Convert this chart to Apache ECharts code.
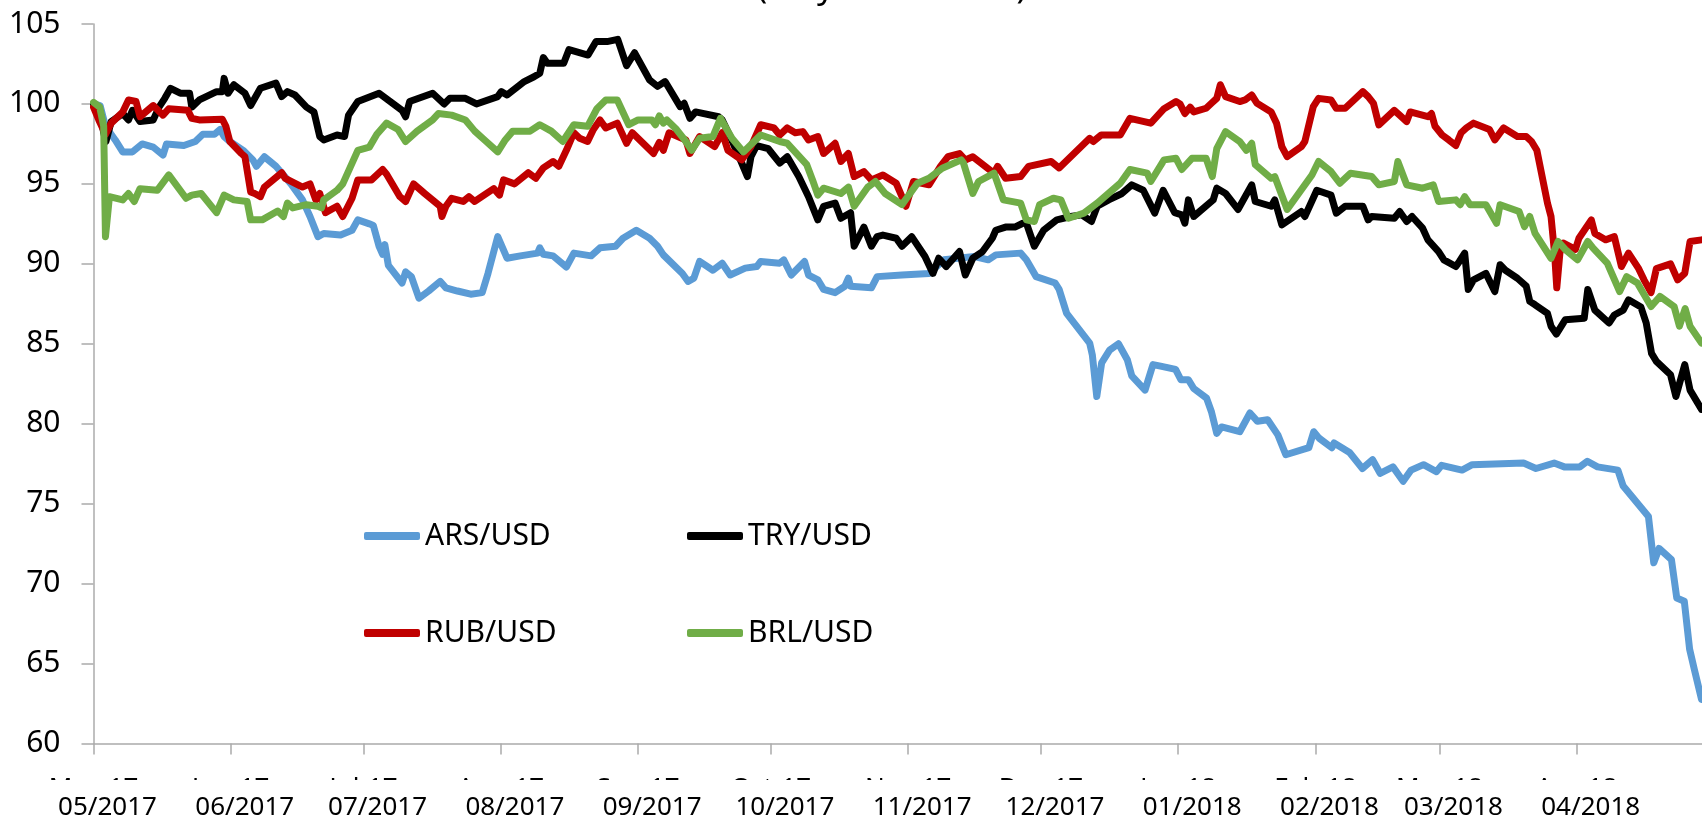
<!doctype html>
<html>
<head>
<meta charset="utf-8">
<title>Currencies vs USD</title>
<style>
  html, body { margin: 0; padding: 0; background: #fff; }
  #main { width: 1702px; height: 822px; }
</style>
</head>
<body>
<div id="main"></div>
<script src="https://cdn.jsdelivr.net/npm/echarts@6/dist/echarts.min.js"></script>
<script>
var FONT = "'Noto Sans', sans-serif";
var START = '2017-05-01';
var END_DAY = 363.3;

// month ticks and their labels
var monthStarts = ['2017-05-01', '2017-06-01', '2017-07-01', '2017-08-01', '2017-09-01', '2017-10-01',
                   '2017-11-01', '2017-12-01', '2018-01-01', '2018-02-01', '2018-03-01', '2018-04-01'];
var monthLabels = ['05/2017', '06/2017', '07/2017', '08/2017', '09/2017', '10/2017',
                   '11/2017', '12/2017', '01/2018', '02/2018', '03/2018', '04/2018'];
// old labels, mostly hidden under the new ones
var oldLabels = ['May-17', 'Jun-17', 'Jul-17', 'Aug-17', 'Sep-17', 'Oct-17',
                 'Nov-17', 'Dec-17', 'Jan-18', 'Feb-18', 'Mar-18', 'Apr-18'];

var seriesNames = ['ARS/USD', 'TRY/USD', 'RUB/USD', 'BRL/USD'];
var seriesColors = ['#5B9BD5', '#000000', '#C00000', '#70AD47'];

// [days since 1 May 2017, index]
var arsUsd = [[0,100],[1.5,99.9],[2.7,98.6],[4.9,97.75],[6.6,97],[8.8,97],[11,97.5],[13.5,97.3],[15.7,96.8],[16.5,97.5],
  [20.4,97.4],[23,97.65],[24.7,98.1],[27.3,98.1],[28.6,98.4],[29.5,97.96],[30.8,97.65],[33.8,97.1],[36,96.5],[36.8,96.1],
  [38.6,96.7],[41.2,96.1],[44.6,95],[47.2,94],[48.9,92.96],[50.7,91.7],[52,91.9],[55.8,91.8],[58.4,92.1],[59.7,92.75],
  [62.3,92.5],[63.2,92.4],[64.5,91.1],[65.3,90.6],[65.8,91.2],[66.6,89.9],[69.7,88.8],[70.5,89.5],[71.8,89.2],[73.5,87.85],
  [75.7,88.3],[78.3,88.9],[79.6,88.5],[82.2,88.3],[85.2,88.1],[87.8,88.2],[89.1,89.4],[91.3,91.7],[93.4,90.35],[96.4,90.5],
  [100.3,90.67],[100.8,91],[101.6,90.6],[103.8,90.5],[106.8,89.8],[108.5,90.67],[112.4,90.5],[114.4,91],[117.9,91.1],[119.6,91.6],
  [122.6,92.1],[125.6,91.6],[127.4,91.1],[128.7,90.56],[133,89.4],[134.3,88.9],[135.6,89.1],[136.9,90.15],[139.9,89.6],[142,90.04],
  [143.8,89.3],[147.2,89.73],[149.8,89.83],[150.7,90.15],[155,90.04],[155.9,90.25],[157.6,89.3],[160.6,90.15],[161.5,89.3],[163.6,89],
  [164.9,88.4],[167.5,88.2],[169.7,88.6],[170.5,89.1],[171,88.6],[175.7,88.5],[177,89.2],[182.6,89.3],[188.7,89.4],[192.1,90.25],
  [195.2,90.35],[199,90.46],[202.1,90.25],[203.8,90.56],[209.4,90.67],[210.7,90.25],[212.9,89.2],[217.2,88.8],[218.1,88.4],[219.8,86.9],
  [225,85.04],[225.6,84.3],[226.6,81.7],[227.7,83.8],[229.5,84.6],[231.5,85],[233.5,84],[234.5,83],[237.5,82.1],[239.3,83.7],
  [241,83.6],[244.4,83.4],[245.6,82.75],[247.3,82.75],[248.5,82.2],[251.4,81.6],[252.5,80.75],[253.7,79.4],[254.8,79.8],[258.9,79.5],
  [261.2,80.67],[262.9,80.15],[265.2,80.25],[267.5,79.3],[269.3,78.06],[274.5,78.5],[275.6,79.5],[276.8,79.1],[279.7,78.5],[280.2,78.8],
  [283.7,78.2],[286.6,77.2],[288.9,77.75],[290.6,76.9],[293.5,77.3],[295.8,76.4],[297.6,77.1],[300.4,77.44],[303.3,77],[304.5,77.4],
  [309.1,77.1],[311.4,77.44],[323,77.54],[325.8,77.2],[329.9,77.54],[332.2,77.3],[335.7,77.3],[337.4,77.65],[339.7,77.3],[344.3,77.1],
  [345.5,76.1],[351.2,74.2],[352.4,71.3],[353.6,72.2],[356.4,71.5],[357.6,69.1],[359.3,68.9],[360.5,65.9],[361.6,64.6],[363.2,62.75]];

var tryUsd = [[0,100],[1.5,99.5],[2.3,98.2],[2.8,97.65],[4,98.9],[6.6,99.4],[7.9,99],[8.8,99.6],[10.5,98.9],[13.5,99],
  [14.8,99.8],[16.1,100.35],[17.4,100.98],[19.6,100.67],[21.7,100.67],[22.2,99.8],[23.9,100.25],[27.8,100.77],[29.1,100.77],[29.5,101.6],
  [30.4,100.67],[31.7,101.2],[34.2,100.67],[35.5,99.9],[37.7,100.98],[41.2,101.3],[42.5,100.46],[43.8,100.77],[45.5,100.56],[48.1,99.8],
  [49.8,99.5],[51.1,97.96],[52,97.75],[55,98.06],[56.7,97.96],[57.6,99.3],[59.7,100.15],[64.5,100.67],[69.7,99.6],[70.5,99.2],
  [71.4,100.15],[76.6,100.67],[79.2,100],[80.5,100.35],[84,100.35],[86.5,100],[91.3,100.46],[92.1,100.77],[93.4,100.56],[97.3,101.4],
  [99.5,101.7],[100.8,101.92],[101.6,102.9],[102.5,102.54],[106.2,102.54],[107.4,103.4],[111.7,103.06],[113.5,103.9],[116,103.9],[118.4,104.04],
  [120.4,102.4],[122.2,103.2],[125.6,101.5],[127.4,101.1],[129.1,101.4],[132.5,99.83],[133.4,100.04],[134.7,99.1],[136,99.5],[141.2,99.2],
  [142,99],[143.8,97.96],[145.5,96.9],[147.7,95.46],[148.5,96.7],[149.8,97.4],[152.4,97.2],[155,96.3],[156.7,96.7],[159.3,95.46],
  [161.5,94.2],[163.6,92.75],[164.9,93.6],[167.5,93.8],[168.8,92.85],[171,93.2],[171.8,91.1],[174,92.3],[175.7,91.1],[177,91.7],
  [178.3,91.8],[181.3,91.6],[182.6,91.1],[184.8,91.7],[187.8,90.46],[189.6,89.4],[190.9,90.35],[192.6,89.83],[195.6,90.77],[196.9,89.3],
  [198.6,90.35],[200.8,90.77],[203,91.6],[203.8,92.1],[206,92.3],[208.1,92.3],[209.9,92.54],[210.7,92.54],[212.5,91.1],[214.6,92.1],
  [217.6,92.75],[220.7,92.96],[223.2,93.06],[225.4,92.65],[226.7,93.6],[229.3,94],[232.3,94.4],[234.5,94.94],[237.1,94.6],[239.7,93.17],
  [241.6,94.6],[244.2,93.2],[245.8,93.06],[246.5,92.54],[247.3,94],[248.5,92.96],[252.9,94],[253.7,94.73],[255.7,94.4],[258.5,93.4],
  [261.6,94.94],[262.4,93.9],[266,93.6],[266.8,94],[268.4,92.44],[272.8,93.27],[273.6,92.96],[276.3,94.6],[279.5,94.3],[280.7,93.17],
  [282.7,93.6],[286.7,93.6],[287.9,92.75],[288.7,92.96],[293.8,92.85],[295,93.27],[296.6,92.65],[297.8,92.96],[300.2,92.23],[301.4,91.5],
  [303.8,90.77],[305,90.25],[307.7,89.83],[308.5,90.15],[309.7,90.67],[310.5,88.4],[311.7,89],[314.5,89.4],[316.5,88.27],[317.7,89.94],
  [318.9,89.6],[321.6,89.1],[323.6,88.6],[324.4,87.65],[325.6,87.44],[328.4,86.9],[329.2,86.1],[330.4,85.6],[332.4,86.5],[336.7,86.6],
  [337.5,88.4],[339.1,87.1],[342.3,86.3],[343.5,86.8],[345.5,87.1],[346.7,87.75],[349.5,87.3],[350.7,86.3],[351.9,84.4],[353,83.9],
  [356.2,83.06],[357.4,81.7],[359.4,83.7],[360.6,82.1],[363.2,80.9]];

var rubUsd = [[0,99.8],[1.2,99],[2.7,98.1],[4,98.8],[6.6,99.5],[7.9,100.25],[9.6,100.15],[10.5,99.2],[13.5,99.9],[15.7,99.3],
  [17,99.7],[21.3,99.6],[22.2,99.1],[23.9,99],[29.1,99.04],[29.9,98.6],[30.8,97.65],[33.4,96.9],[34.2,96.7],[35.5,94.5],
  [36.4,94.4],[37.7,94.2],[38.6,94.8],[42.5,95.7],[43.3,95.35],[47.2,94.8],[48.9,95],[50.2,94],[51.1,94.4],[52.4,93.2],
  [55,93.6],[56.3,92.96],[58.4,94.1],[59.7,95.25],[62.8,95.25],[65.3,95.9],[66.2,95.6],[69.2,94.2],[70.5,93.9],[72.3,95],
  [74.8,94.4],[77,93.9],[78.3,93.6],[78.7,92.96],[79.6,93.6],[80.9,94.1],[83.5,93.9],[84.8,94.2],[86.1,93.9],[88.2,94.3],
  [90.4,94.7],[91.7,94.3],[92.6,95.25],[95.1,95],[98.2,95.7],[99.9,95.35],[101.6,96],[103.8,96.4],[105.1,96.1],[106.8,97.1],
  [108.5,98.2],[109.8,97.85],[111.6,97.65],[112.9,98.4],[114.4,99],[115.7,98.5],[118.3,98.8],[120.4,97.54],[121.7,98.2],[126.5,96.9],
  [127.8,97.6],[128.7,97.1],[130,98.2],[133.8,97.75],[134.7,96.9],[136.9,97.96],[140.3,97.33],[142,98.2],[143.3,97.1],[146.4,96.5],
  [148.5,97.33],[150.7,98.7],[153.7,98.5],[155,98.06],[156.7,98.5],[158.5,98.2],[160.2,98.27],[161.5,97.75],[163.6,97.96],[164.9,96.9],
  [167.5,97.54],[168.8,96.4],[170.5,96.9],[171.8,95.46],[174,95.77],[175.7,95.25],[178.3,95.56],[181.3,95.04],[182.6,94.2],[183.5,93.6],
  [185.2,95.15],[188.7,94.94],[191.3,96.1],[193,96.7],[195.6,96.9],[196.9,96.5],[198.6,96.7],[203.4,95.67],[204.2,96.1],[206,95.35],
  [209.4,95.46],[211.2,96.1],[216.3,96.4],[218.1,96],[225,97.85],[225.8,97.65],[227.6,98.06],[231.9,98.06],[234.1,99.1],[238.8,98.8],
  [241.8,99.7],[244.5,100.15],[245.4,100],[246.5,99.4],[247.7,99.8],[248.5,99.5],[251.3,99.73],[252.5,100.04],[253.7,100.35],[254.5,101.2],
  [255.7,100.46],[258.9,100.15],[260.1,100.25],[261.6,100.56],[262.8,100.04],[266,99.5],[267.2,98.8],[268.4,97.33],[269.6,96.7],[272.8,97.33],
  [273.6,97.65],[275.5,99.83],[276.7,100.35],[279.5,100.25],[280.7,99.73],[282.7,99.73],[286.7,100.77],[287.9,100.46],[289.1,100.04],[290.3,98.69],
  [293.8,99.6],[295,99.3],[296.6,98.9],[297.4,99.5],[301.4,99.2],[302.2,99.4],[303,98.6],[304.6,98.06],[306.1,97.75],[307.7,97.4],
  [308.9,98.2],[310.1,98.5],[311.7,98.8],[315.3,98.4],[316.5,97.75],[318.5,98.5],[321.6,97.96],[323.6,97.96],[324.8,97.65],[326,97.1],
  [328.4,93.8],[329.2,92.96],[330,90.67],[330.5,88.5],[331.2,90.67],[332,91.3],[334.7,90.9],[335.5,91.6],[338.3,92.75],[339.1,91.9],
  [341.5,91.5],[343.5,91.7],[345.1,89.83],[346.7,90.67],[349,89.7],[350.2,89],[351.8,88.2],[353,89.7],[356.2,90],[357.8,89],
  [359.4,89.4],[360.6,91.4],[363.2,91.5]];

var brlUsd = [[0,100.1],[1.4,99.8],[2.3,98.6],[2.7,91.7],[3.6,94.2],[6.6,94],[7.9,94.4],[9.2,93.9],[10.5,94.7],[14.4,94.6],
  [17,95.56],[20.9,94.1],[22.2,94.3],[24.3,94.4],[27.8,93.2],[29.5,94.3],[31.7,94],[34.7,93.9],[35.5,92.75],[38.1,92.75],
  [41.6,93.3],[42.9,92.96],[43.8,93.8],[45,93.5],[48.1,93.7],[50.7,93.6],[51.5,93.5],[52,94],[55,94.6],[56.3,95],
  [59.7,97.1],[62.3,97.3],[64,98.1],[66.2,98.8],[68.8,98.4],[70.5,97.65],[73.1,98.3],[76.6,99],[77.9,99.4],[80.9,99.3],
  [84,99],[86.1,98.3],[88.7,97.65],[91.3,97],[93,97.75],[94.7,98.3],[98.6,98.3],[100.8,98.7],[103.4,98.3],[106,97.65],
  [108.5,98.7],[111.6,98.6],[113.7,99.7],[115.7,100.25],[118.3,100.25],[120.9,98.7],[123,99],[126.1,99],[126.9,98.7],[127.8,99.25],
  [128.7,98.8],[129.5,99],[131.7,98.4],[133.8,97.65],[135.1,97.1],[136.9,97.85],[139.9,97.96],[141.6,99.1],[144.2,97.85],[146.8,97],
  [150.7,98.06],[155,97.65],[156.7,97.54],[161.1,96.2],[162.4,95.25],[163.6,94.3],[164.9,94.73],[168.8,94.4],[170.5,94.8],[171.8,93.6],
  [174.9,94.8],[176.6,95.15],[178.8,94.4],[182.6,93.7],[186.1,95.04],[188.7,95.35],[191.7,95.98],[196,96.5],[196.5,96.3],[198.6,94.4],
  [199.9,95.15],[203.4,95.67],[205.5,94],[209.4,93.8],[210.7,92.75],[212.5,92.65],[213.7,93.7],[216.8,94.1],[218.5,94],[220.2,92.85],
  [223.7,93.17],[226.7,93.8],[231.9,95.04],[234.1,95.9],[238,95.67],[238.8,95.15],[241.8,96.5],[244.5,96.6],[245.8,95.9],[248.1,96.6],
  [251.3,96.6],[252.7,95.46],[253.7,97.2],[255.7,98.27],[258.9,97.65],[260.4,97.1],[261.6,97.54],[262.4,96.2],[266,95.35],[266.8,95.46],
  [269.6,93.4],[275.2,95.56],[276.7,96.4],[279.5,95.77],[281.5,95.04],[283.9,95.67],[288.7,95.46],[290.3,94.94],[293.8,95.15],[294.6,96.4],
  [296.6,94.94],[300.2,94.73],[302.6,94.94],[303.8,93.9],[307.7,94],[308.7,93.7],[309.7,94.2],[310.9,93.7],[314.5,93.7],[316.9,92.54],
  [317.7,93.7],[322,93.27],[323.2,92.33],[324.4,92.96],[325.6,91.9],[329.2,90.35],[330.8,91.4],[332.4,90.9],[335.2,90.25],[337.5,91.4],
  [338.7,90.98],[341.9,90.04],[344.7,88.27],[346.3,89.2],[348.7,88.8],[351.8,87.33],[353.8,87.96],[357,87.33],[358.2,86.1],[359.5,87.2],
  [360.6,86.1],[363.2,85.04]];

var seriesData = [arsUsd, tryUsd, rubUsd, brlUsd];

function dayOf(s) {
    var a = s.split('-'), b = START.split('-');
    return (Date.UTC(+a[0], a[1] - 1, +a[2]) - Date.UTC(+b[0], b[1] - 1, +b[2])) / 86400000;
}
var tickDays = monthStarts.map(dayOf);

function labelFor(list) {
    return function(v) {
        for (var i = 0; i < tickDays.length; i++) {
            if (Math.abs(tickDays[i] - v) < 0.5) return list[i];
        }
        return '';
    };
}

var axisGrey = '#ABABAB';

var chart = echarts.init(document.getElementById('main'), null, { renderer: 'canvas' });
chart.setOption({
    animation: false,
    backgroundColor: '#ffffff',
    grid: { left: 93.5, right: 0, top: 24, bottom: 78.5, containLabel: false },
    legend: [{
        orient: 'vertical',
        left: 364, top: 521,
        padding: 0,
        itemWidth: 56, itemHeight: 8, itemGap: 67,
        icon: 'roundRect',
        data: ['ARS/USD', 'RUB/USD'],
        textStyle: { fontFamily: FONT, fontSize: 30, color: '#000', lineHeight: 30 }
    }, {
        orient: 'vertical',
        left: 687, top: 521,
        padding: 0,
        itemWidth: 56, itemHeight: 8, itemGap: 67,
        icon: 'roundRect',
        data: ['TRY/USD', 'BRL/USD'],
        textStyle: { fontFamily: FONT, fontSize: 30, color: '#000', lineHeight: 30 }
    }],
    xAxis: [{
        type: 'value',
        min: 0, max: END_DAY,
        z: 10,
        axisLine: { show: true, onZero: false, lineStyle: { color: axisGrey, width: 1.5 } },
        axisTick: { show: true, length: 11, customValues: tickDays, lineStyle: { color: axisGrey, width: 1.5 } },
        axisLabel: {
            customValues: tickDays,
            formatter: labelFor(monthLabels),
            margin: 51,
            padding: [0, 0, 0, 28],
            fontFamily: FONT, fontSize: 26, color: '#000', lineHeight: 26
        },
        splitLine: { show: false }
    }, {
        // the older axis labels, cut off by the white band below
        type: 'value',
        min: 0, max: END_DAY,
        position: 'bottom',
        z: 1,
        axisLine: { show: false },
        axisTick: { show: false },
        axisLabel: {
            customValues: tickDays,
            formatter: labelFor(oldLabels),
            margin: 32,
            fontFamily: FONT, fontSize: 26, color: '#000', lineHeight: 26
        },
        splitLine: { show: false }
    }],
    yAxis: {
        type: 'value',
        min: 60, max: 105, interval: 5,
        axisLine: { show: true, lineStyle: { color: axisGrey, width: 1.5 } },
        axisTick: { show: true, length: 12, lineStyle: { color: axisGrey, width: 1.5 } },
        axisLabel: { margin: 33, fontFamily: FONT, fontSize: 30, color: '#000' },
        splitLine: { show: false }
    },
    graphic: [{
        type: 'rect',
        z: 5,
        shape: { x: 0, y: 780, width: 1702, height: 42 },
        style: { fill: '#ffffff' }
    }, {
        type: 'text',
        x: 757, y: -12,
        style: { text: '(May 2017 = 100)', fontFamily: FONT, fontSize: 34, fill: '#000', align: 'left', verticalAlign: 'middle' }
    }],
    series: seriesNames.map(function(name, i) {
        return {
            name: name,
            type: 'line',
            xAxisIndex: 0,
            showSymbol: false,
            symbol: 'none',
            color: seriesColors[i],
            lineStyle: { width: 7, color: seriesColors[i], cap: 'round', join: 'round' },
            emphasis: { disabled: true },
            data: seriesData[i]
        };
    })
});
</script>
</body>
</html>
